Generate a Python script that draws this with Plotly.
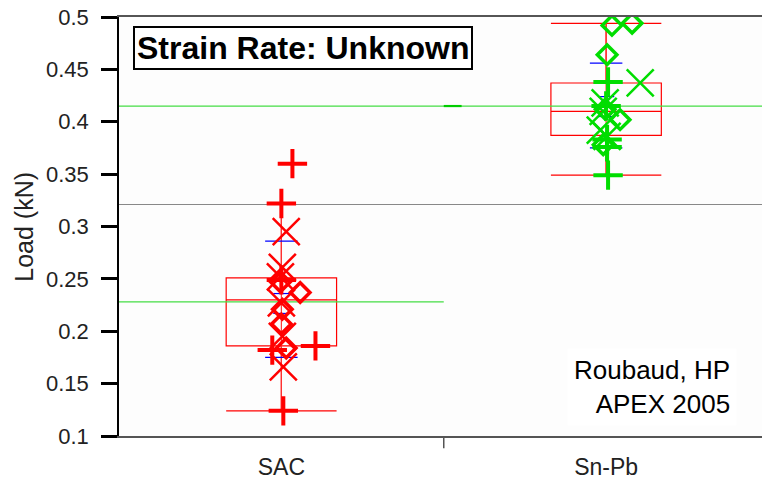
import plotly.graph_objects as go

# ---- data ----
categories = ["SAC", "Sn-Pb"]
cat_pos = [0, 1]

# box statistics per category
q1 = [0.186, 0.387]
median = [0.230, 0.410]
q3 = [0.251, 0.437]
lower_whisker = [0.124, 0.349]
upper_whisker = [0.321, 0.494]

# mean lines and spread markers
group_mean = [0.228, 0.415]
grand_mean = 0.321
sd_low = [0.175, 0.375]
sd_high = [0.286, 0.456]
se_low = [0.217, 0.405]
se_high = [0.236, 0.424]

# individual points: (x offset from category, value)
sac_plus_dx = [0.034, 0.0, 0.0, -0.028, 0.105, 0.006]
sac_plus_y = [0.360, 0.322, 0.249, 0.182, 0.186, 0.124]
sac_x_dx = [0.015, 0.003, -0.003, 0.0, 0.003, 0.006]
sac_x_y = [0.295, 0.261, 0.252, 0.227, 0.195, 0.166]
sac_d_dx = [-0.003, 0.058, 0.003, 0.0, 0.015]
sac_d_y = [0.247, 0.237, 0.221, 0.207, 0.184]

snpb_plus_dx = [0.006, 0.0, 0.003, 0.003, 0.006]
snpb_plus_y = [0.438, 0.415, 0.383, 0.376, 0.349]
snpb_x_dx = [0.105, -0.003, -0.009, -0.018, 0.003]
snpb_x_y = [0.437, 0.418, 0.410, 0.392, 0.386]
snpb_d_dx = [0.018, 0.080, 0.003, 0.043, -0.003, -0.009]
snpb_d_y = [0.492, 0.494, 0.464, 0.402, 0.412, 0.378]

y_ticks = [0.1, 0.15, 0.2, 0.25, 0.3, 0.35, 0.4, 0.45, 0.5]
y_ticktext = ["0.1", "0.15", "0.2", "0.25", "0.3", "0.35", "0.4", "0.45", "0.5"]
divider_pos = 0.5

RED = "#ff0000"
GREEN = "#00dd00"
BLUE = "#0000ff"
FONT = "Liberation Sans, Arial, sans-serif"

fig = go.Figure()

x_lo, x_hi = -0.5, 1.48

# grand mean (gray)
fig.add_trace(go.Scatter(x=[x_lo, x_hi], y=[grand_mean, grand_mean], mode="lines",
                         line=dict(color="#888888", width=1.2), hoverinfo="skip"))
# group mean lines (green)
fig.add_trace(go.Scatter(x=[x_lo, 0.5], y=[group_mean[0]] * 2, mode="lines",
                         line=dict(color="#44dd44", width=1.3), hoverinfo="skip"))
fig.add_trace(go.Scatter(x=[x_lo, x_hi], y=[group_mean[1]] * 2, mode="lines",
                         line=dict(color="#44dd44", width=1.3), hoverinfo="skip"))
fig.add_trace(go.Scatter(x=[0.5, 0.555], y=[group_mean[1]] * 2, mode="lines",
                         line=dict(color="#00cc00", width=2.2), hoverinfo="skip"))

box_colors = [RED, RED]
for i in range(2):
    # whisker line through the box
    fig.add_trace(go.Scatter(x=[cat_pos[i], cat_pos[i]], y=[lower_whisker[i], upper_whisker[i]],
                             mode="lines", line=dict(color="#ff3333", width=1.2), hoverinfo="skip"))
    fig.add_trace(go.Box(x=[cat_pos[i]], q1=[q1[i]], median=[median[i]], q3=[q3[i]],
                         lowerfence=[lower_whisker[i]], upperfence=[upper_whisker[i]],
                         width=0.34, whiskerwidth=1, fillcolor="rgba(0,0,0,0)",
                         line=dict(color=box_colors[i], width=1.2), boxpoints=False))
    # blue sd / se ticks
    bx, by = [], []
    for lo, hi, hw in [(sd_low[i], sd_high[i], 0.05), (se_low[i], se_high[i], 0.025)]:
        for v in (lo, hi):
            bx += [cat_pos[i] - hw, cat_pos[i] + hw, None]
            by += [v, v, None]
    fig.add_trace(go.Scatter(x=bx, y=by, mode="lines", line=dict(color=BLUE, width=1.2),
                             hoverinfo="skip"))


def pts(dx, c):
    return [c + d for d in dx]


groups = [
    (sac_plus_dx, sac_plus_y, sac_x_dx, sac_x_y, sac_d_dx, sac_d_y, 0, RED),
    (snpb_plus_dx, snpb_plus_y, snpb_x_dx, snpb_x_y, snpb_d_dx, snpb_d_y, 1, GREEN),
]
for pdx, py, xdx, xy, ddx, dy, c, col in groups:
    fig.add_trace(go.Scatter(x=pts(ddx, c), y=dy, mode="markers",
                             marker=dict(symbol="diamond-open", size=15, color=col,
                                         line=dict(color=col, width=3.5))))
    fig.add_trace(go.Scatter(x=pts(xdx, c), y=xy, mode="markers",
                             marker=dict(symbol="x-thin-open", size=27, color=col,
                                         line=dict(color=col, width=2.5))))
    fig.add_trace(go.Scatter(x=pts(pdx, c), y=py, mode="markers",
                             marker=dict(symbol="cross-thin-open", size=21, color=col,
                                         line=dict(color=col, width=4))))

fig.update_layout(
    width=762, height=481,
    margin=dict(l=119, r=0, t=17, b=45),
    paper_bgcolor="#ffffff", plot_bgcolor="#fdfdfd",
    showlegend=False,
    font=dict(family=FONT, color="#222222"),
    xaxis=dict(range=[x_lo, x_hi], tickvals=cat_pos, ticktext=categories, ticks="outside",
               ticklen=10, tickcolor="rgba(0,0,0,0)",
               showgrid=False, zeroline=False, showline=True, linecolor="#555555",
               linewidth=1.5, mirror=True, tickfont=dict(size=23, family=FONT, color="#222222")),
    yaxis=dict(range=[0.1, 0.5], tickvals=y_ticks, ticktext=y_ticktext, ticks="outside",
               ticklen=16, tickwidth=3, tickcolor="#000000", showgrid=False, zeroline=False,
               showline=True, linecolor="#000000", linewidth=1.5, ticklabelstandoff=8,
               ticklabeloverflow="allow",
               tickfont=dict(size=22, family=FONT, color="#222222")),
    shapes=[
        # group divider tick below the category axis
        dict(type="line", xref="x", yref="paper", x0=divider_pos, x1=divider_pos,
             y0=0, y1=-0.029, line=dict(color="#555555", width=1.5)),
    ],
    annotations=[
        dict(text="Load (kN)", xref="paper", yref="paper", x=-0.149, y=0.5,
             textangle=-90, showarrow=False, xanchor="center", yanchor="middle",
             font=dict(size=25, family=FONT, color="#222222")),
        dict(text="<b>Strain Rate: Unknown</b>", xref="paper", yref="paper", x=0.286, y=0.927,
             showarrow=False, xanchor="center", yanchor="middle", bgcolor="#ffffff",
             bordercolor="#000000", borderwidth=2, borderpad=2,
             font=dict(size=32, family=FONT, color="#000000")),
        dict(text="Roubaud, HP<br>APEX 2005", xref="paper", yref="paper", x=0.961, y=0.116,
             showarrow=False, xanchor="right", yanchor="middle", align="right",
             bgcolor="#ffffff", borderpad=6,
             font=dict(size=26, family=FONT, color="#000000")),
    ],
)

fig.write_html("out.html", config={"displayModeBar": False},
               post_script="document.body.style.margin='0';document.body.style.overflow='hidden';")
